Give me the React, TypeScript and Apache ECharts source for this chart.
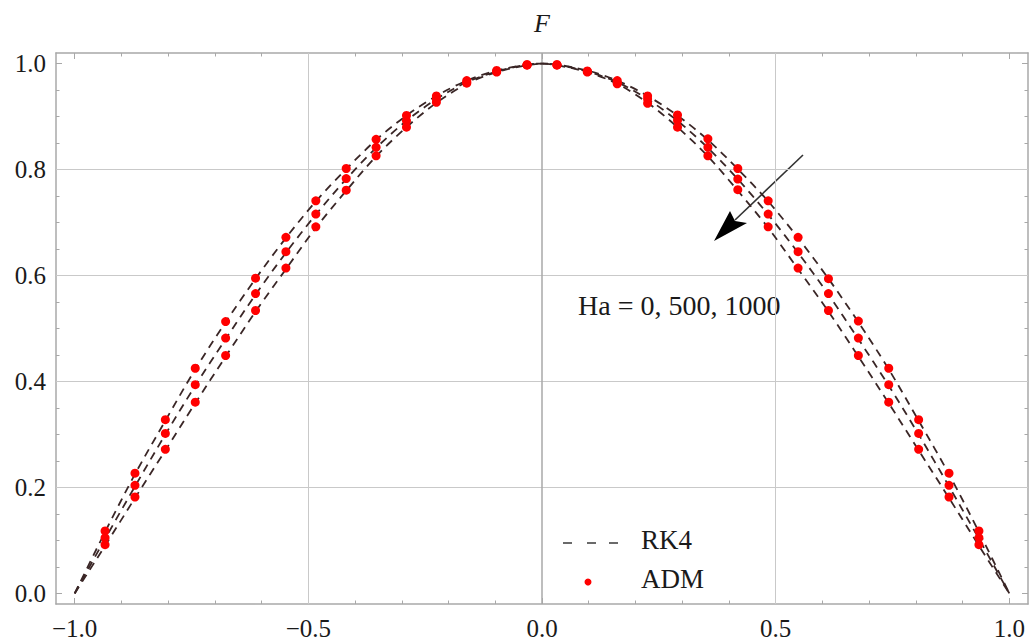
import React, { useEffect, useRef } from "react";
import * as echarts from "echarts";

// ADM sample abscissae
const xADM = [-0.935, -0.871, -0.806, -0.742, -0.677, -0.613, -0.548, -0.484, -0.419, -0.355, -0.29, -0.226, -0.161, -0.097, -0.032,
  0.032, 0.097, 0.161, 0.226, 0.29, 0.355, 0.419, 0.484, 0.548, 0.613, 0.677, 0.742, 0.806, 0.871, 0.935];
const admHa0 = [0.118, 0.227, 0.328, 0.425, 0.513, 0.595, 0.672, 0.741, 0.802, 0.857, 0.902, 0.939, 0.968, 0.987, 0.998,
  0.998, 0.986, 0.968, 0.939, 0.903, 0.858, 0.802, 0.741, 0.672, 0.594, 0.514, 0.425, 0.328, 0.227, 0.118];
const admHa500 = [0.105, 0.204, 0.302, 0.394, 0.482, 0.566, 0.645, 0.716, 0.783, 0.842, 0.892, 0.933, 0.965, 0.985, 0.998,
  0.998, 0.985, 0.964, 0.933, 0.893, 0.842, 0.782, 0.716, 0.645, 0.566, 0.482, 0.394, 0.302, 0.204, 0.105];
const admHa1000 = [0.092, 0.182, 0.272, 0.361, 0.449, 0.534, 0.614, 0.692, 0.761, 0.826, 0.88, 0.927, 0.963, 0.984, 0.997,
  0.997, 0.984, 0.962, 0.925, 0.88, 0.826, 0.762, 0.692, 0.614, 0.534, 0.449, 0.361, 0.272, 0.182, 0.092];

// RK4 curves
const xRK4 = [-1.0, -0.935, -0.871, -0.806, -0.742, -0.677, -0.613, -0.548, -0.484, -0.419, -0.355, -0.29, -0.226, -0.161, -0.097, -0.032, 0.0,
  0.032, 0.097, 0.161, 0.226, 0.29, 0.355, 0.419, 0.484, 0.548, 0.613, 0.677, 0.742, 0.806, 0.871, 0.935, 1.0];
const rk4Ha0 = [0.0, 0.116, 0.225, 0.326, 0.423, 0.512, 0.594, 0.671, 0.740, 0.801, 0.856, 0.902, 0.939, 0.968, 0.987, 0.998, 1.0,
  0.998, 0.987, 0.968, 0.939, 0.902, 0.856, 0.801, 0.740, 0.671, 0.594, 0.512, 0.423, 0.326, 0.225, 0.116, 0.0];
const rk4Ha500 = [0.0, 0.103, 0.202, 0.300, 0.392, 0.480, 0.564, 0.643, 0.715, 0.782, 0.841, 0.892, 0.933, 0.965, 0.985, 0.998, 1.0,
  0.998, 0.985, 0.965, 0.933, 0.892, 0.841, 0.782, 0.715, 0.643, 0.564, 0.480, 0.392, 0.300, 0.202, 0.103, 0.0];
const rk4Ha1000 = [0.0, 0.090, 0.180, 0.270, 0.359, 0.447, 0.532, 0.612, 0.690, 0.760, 0.825, 0.880, 0.926, 0.962, 0.984, 0.997, 1.0,
  0.997, 0.984, 0.962, 0.926, 0.880, 0.825, 0.760, 0.690, 0.612, 0.532, 0.447, 0.359, 0.270, 0.180, 0.090, 0.0];

// ticks
const xMajor = [-1.0, -0.5, 0.0, 0.5, 1.0];
const xMinor = [-0.9, -0.8, -0.7, -0.6, -0.4, -0.3, -0.2, -0.1, 0.1, 0.2, 0.3, 0.4, 0.6, 0.7, 0.8, 0.9];
const yMajor = [0.0, 0.2, 0.4, 0.6, 0.8, 1.0];
const yMinor = [0.05, 0.1, 0.15, 0.25, 0.3, 0.35, 0.45, 0.5, 0.55, 0.65, 0.7, 0.75, 0.85, 0.9, 0.95];
const xGrid = [-0.5, 0.5];
const yGrid = [0.2, 0.4, 0.6, 0.8];

const FONT = '"Liberation Serif", "Times New Roman", serif';
const FRAME = "#a8a8a8";
const CURVE = "#3a2626";

const fmt = (v: number) => (v < 0 ? "\u2212" + (-v).toFixed(1) : v.toFixed(1));

function mkX(position: string, ticks: number[], len: number, labels: boolean, line: boolean) {
  return {
    type: "value", min: -1.04, max: 1.04, position,
    axisLine: { show: line, onZero: false, lineStyle: { color: FRAME, width: 1.5 } },
    axisTick: { show: true, inside: true, length: len, customValues: ticks, lineStyle: { color: FRAME, width: 1 } },
    axisLabel: labels
      ? { show: true, customValues: ticks, formatter: fmt, margin: 12, fontFamily: FONT, fontSize: 25, color: "#1a1a1a" }
      : { show: false },
    splitLine: { show: false },
  };
}
function mkY(position: string, ticks: number[], len: number, labels: boolean, line: boolean) {
  return {
    type: "value", min: -0.02, max: 1.02, position,
    axisLine: { show: line, onZero: false, lineStyle: { color: FRAME, width: 1.5 } },
    axisTick: { show: true, inside: true, length: len, customValues: ticks, lineStyle: { color: FRAME, width: 1 } },
    axisLabel: labels
      ? { show: true, customValues: ticks, formatter: fmt, margin: 10, fontFamily: FONT, fontSize: 25, color: "#1a1a1a" }
      : { show: false },
    splitLine: { show: false },
  };
}

const zip = (xs: number[], ys: number[]) => xs.map((x, i) => [x, ys[i]]);

export default function App() {
  const ref = useRef<HTMLDivElement>(null);
  useEffect(() => {
    if (!ref.current) return;
    const chart = echarts.init(ref.current, null, { renderer: "svg" });
    const lineSeries = (name: string, ys: number[], withGrid: boolean) => ({
      type: "line", name, data: zip(xRK4, ys), smooth: 0.3, showSymbol: false, symbol: "none",
      lineStyle: { color: CURVE, width: 1.8, type: [8, 6] }, z: 3,
      markLine: withGrid
        ? {
            silent: true, symbol: "none", label: { show: false }, z: 1,
            lineStyle: { color: "#c9c9c9", width: 1, type: "solid" },
            data: [
              ...xGrid.map((v) => ({ xAxis: v })),
              ...yGrid.map((v) => ({ yAxis: v })),
              { xAxis: 0, lineStyle: { color: "#a8a8a8", width: 1.5, type: "solid" } },
            ],
          }
        : undefined,
    });
    const dotSeries = (name: string, ys: number[]) => ({
      type: "scatter", name, data: zip(xADM, ys), symbol: "circle", symbolSize: 9,
      itemStyle: { color: "#ff0000", opacity: 1 }, z: 4,
    });
    chart.setOption({
      animation: false,
      grid: { left: 56, right: 3, top: 53, bottom: 32, containLabel: false },
      xAxis: [
        mkX("bottom", xMajor, 6, true, true),
        mkX("bottom", xMinor, 3.5, false, false),
        mkX("top", xMajor, 6, false, true),
        mkX("top", xMinor, 3.5, false, false),
      ],
      yAxis: [
        mkY("left", yMajor, 6, true, true),
        mkY("left", yMinor, 3.5, false, false),
        mkY("right", yMajor, 6, false, true),
        mkY("right", yMinor, 3.5, false, false),
      ],
      series: [
        lineSeries("RK4 Ha=0", rk4Ha0, true),
        lineSeries("RK4 Ha=500", rk4Ha500, false),
        lineSeries("RK4 Ha=1000", rk4Ha1000, false),
        dotSeries("ADM Ha=0", admHa0),
        dotSeries("ADM Ha=500", admHa500),
        dotSeries("ADM Ha=1000", admHa1000),
      ],
      graphic: [
        { type: "text", x: 542, y: 23, style: { text: "F", fontFamily: FONT, fontSize: 26, fontStyle: "italic", fill: "#1a1a1a", align: "center", verticalAlign: "middle" } },
        { type: "text", x: 578, y: 305, style: { text: "Ha = 0, 500, 1000", fontFamily: FONT, fontSize: 28, fill: "#1a1a1a", align: "left", verticalAlign: "middle" } },
        { type: "line", shape: { x1: 803, y1: 155, x2: 735, y2: 220 }, style: { stroke: "#333", lineWidth: 1.6 } },
        { type: "polygon", shape: { points: [[714, 241], [730, 211], [735, 221], [747, 223]] }, style: { fill: "#000" } },
        { type: "line", shape: { x1: 563, y1: 543, x2: 572, y2: 543 }, style: { stroke: "#444", lineWidth: 1.6 } },
        { type: "line", shape: { x1: 587, y1: 543, x2: 596, y2: 543 }, style: { stroke: "#444", lineWidth: 1.6 } },
        { type: "line", shape: { x1: 609, y1: 543, x2: 618, y2: 543 }, style: { stroke: "#444", lineWidth: 1.6 } },
        { type: "text", x: 641, y: 540, style: { text: "RK4", fontFamily: FONT, fontSize: 27, fill: "#1a1a1a", align: "left", verticalAlign: "middle" } },
        { type: "circle", shape: { cx: 588, cy: 582, r: 3.5 }, style: { fill: "#ff0000" } },
        { type: "text", x: 641, y: 579, style: { text: "ADM", fontFamily: FONT, fontSize: 27, fill: "#1a1a1a", align: "left", verticalAlign: "middle" } },
      ],
    });
    return () => chart.dispose();
  }, []);
  return <div ref={ref} style={{ position: "absolute", left: 0, top: 0, width: 1031, height: 641, background: "#fff" }} />;
}
